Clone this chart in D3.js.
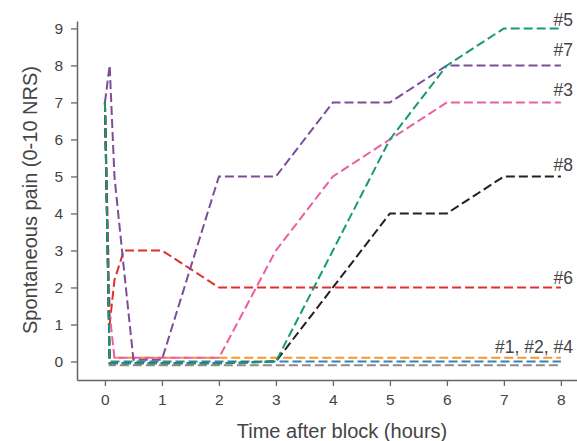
<!DOCTYPE html>
<html>
<head>
<meta charset="utf-8">
<script src="https://cdn.jsdelivr.net/npm/d3@7"></script>
<style>
  body { margin: 0; background: #fff; }
  svg text { font-family: "Liberation Sans", Arial, sans-serif; fill: #444; }
</style>
</head>
<body>
<svg id="chart" width="577" height="441"></svg>
<script>
// sampling times (hours after block)
var times = [0, 0.083, 0.167, 0.333, 0.5, 1, 2, 3, 4, 5, 6, 7, 8];

// pain scores per patient
var p1 = [7, 0.1, 0.1, 0.1, 0.1, 0.1, 0.1, 0.1, 0.1, 0.1, 0.1, 0.1, 0.1];
var p2 = [7, 0, 0, 0, 0, 0, 0, 0, 0, 0, 0, 0, 0];
var p4 = [7, -0.1, -0.1, -0.1, -0.1, -0.1, -0.1, -0.1, -0.1, -0.1, -0.1, -0.1, -0.1];
var p6 = [7, 1, 2.2, 3, 3, 3, 2, 2, 2, 2, 2, 2, 2];
var p3 = [7, 1.3, 0.1, 0.1, 0.1, 0.1, 0.1, 3, 5, 6, 7, 7, 7];
var p7 = [7, 8, 5, 2.5, 0.05, 0.05, 5, 5, 7, 7, 8, 8, 8];
var p8 = [7, -0.05, -0.05, -0.05, -0.05, -0.05, -0.05, 0, 2, 4, 4, 5, 5];
var p5 = [7, -0.05, -0.05, -0.05, -0.05, -0.05, -0.05, 0, 3, 6, 8, 9, 9];

var seriesNames = ["#4", "#2", "#1", "#6", "#3", "#7", "#8", "#5"];
var seriesValues = [p4, p2, p1, p6, p3, p7, p8, p5];
var seriesColors = ["#8c8c8c", "#3a80b8", "#f39a22", "#e0302c", "#ea5fa3", "#7b4e9a", "#222222", "#179a70"];

var xTicks = [0, 1, 2, 3, 4, 5, 6, 7, 8];
var yTicks = [0, 1, 2, 3, 4, 5, 6, 7, 8, 9];

// end labels: text and the series value they sit above
var labelTexts = ["#5", "#7", "#3", "#8", "#6", "#1, #2, #4"];
var labelValues = [9, 8, 7, 5, 2, 0];

var svg = d3.select("#chart");

var x = d3.scaleLinear().domain([-0.49, 8.3]).range([77, 578]);
var y = d3.scaleLinear().domain([-0.5, 9.2]).range([380, 21]);

// axes
var xAxis = svg.append("g")
    .attr("transform", "translate(0,380)")
    .call(d3.axisBottom(x).tickValues(xTicks).tickSize(6).tickPadding(8).tickSizeOuter(0));
var yAxis = svg.append("g")
    .attr("transform", "translate(77,0)")
    .call(d3.axisLeft(y).tickValues(yTicks).tickSize(6).tickPadding(8).tickSizeOuter(0));

[xAxis, yAxis].forEach(function(ax) {
    ax.select(".domain").attr("stroke", "#666").attr("stroke-width", 1.5);
    ax.selectAll(".tick line").attr("stroke", "#666").attr("stroke-width", 1.3);
    ax.selectAll(".tick text").style("font-size", "15.5px").attr("fill", "#444");
});

// lines
var line = d3.line()
    .x(function(d, i) { return x(times[i]); })
    .y(function(d) { return y(d); });

svg.append("g").selectAll("path")
    .data(seriesValues)
    .enter().append("path")
    .attr("d", line)
    .attr("fill", "none")
    .attr("stroke", function(d, i) { return seriesColors[i]; })
    .attr("stroke-width", 2)
    .attr("stroke-dasharray", "9,4");

// end labels
var labelShift = [-2, -9, -6, -5, -3, -8];
svg.append("g").selectAll("text")
    .data(labelTexts)
    .enter().append("text")
    .attr("x", x(8) + 12)
    .attr("y", function(d, i) { return y(labelValues[i]) + labelShift[i]; })
    .attr("text-anchor", "end")
    .style("font-size", "17.5px")
    .text(function(d) { return d; });

// axis titles
svg.append("text")
    .attr("x", 342)
    .attr("y", 438)
    .attr("text-anchor", "middle")
    .style("font-size", "20px")
    .text("Time after block (hours)");

svg.append("text")
    .attr("transform", "translate(37,200) rotate(-90)")
    .attr("text-anchor", "middle")
    .style("font-size", "20px")
    .text("Spontaneous pain (0-10 NRS)");
</script>
</body>
</html>
